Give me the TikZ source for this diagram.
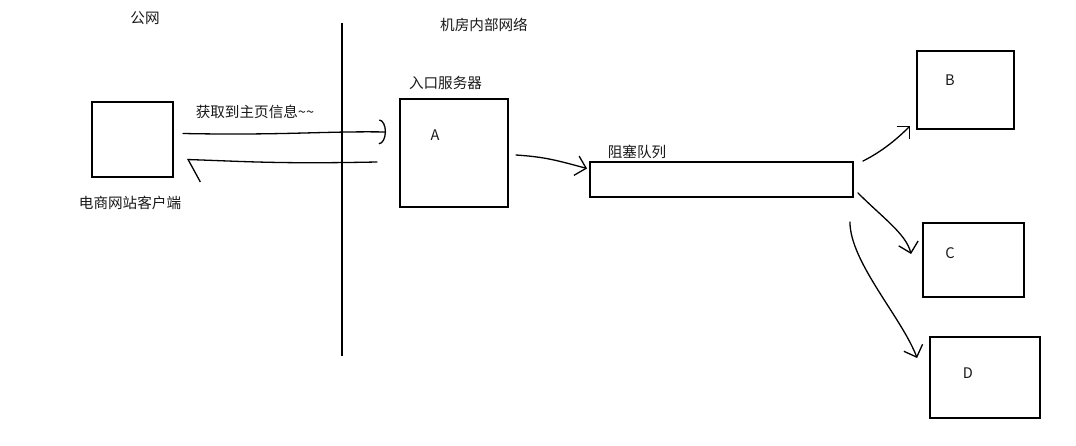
\documentclass[tikz,border=0pt]{standalone}
\usepackage{fontspec}
\setmainfont{Noto Sans CJK SC}
\usetikzlibrary{arrows.meta,calc}
\begin{document}
\begin{tikzpicture}[x=1pt,y=-1pt,
  box/.style={draw, line width=1.9pt, inner sep=0pt},
  lbl/.style={font=\fontsize{14.6}{16}\selectfont, inner sep=0pt, text=black!90},
  conn/.style={line width=1.3pt, line cap=round, line join=round},
  barb/.style={-{Straight Barb[length=#1, width=2*#1, line width=1.3pt]}},
]
\useasboundingbox[fill=white] (0,0) rectangle (1076,446);

% boxes
\node[box, minimum width=81, minimum height=75] (client) at (132.5,139.5) {};
\node[box, minimum width=108, minimum height=108] (A) at (454,153) {};
\node[box, minimum width=263, minimum height=35] (queue) at (721.5,179.5) {};
\node[box, minimum width=97, minimum height=78] (B) at (965.5,90) {};
\node[box, minimum width=101, minimum height=74] (C) at (973.5,260) {};
\node[box, minimum width=110, minimum height=81] (D) at (985,377.5) {};

% divider
\coordinate (divtop) at (342,23);
\coordinate (divbot) at (342,356);
\draw[line width=1.9pt] (divtop) -- (divbot);

% labels
\node[lbl] (pub) at (145,18) {公网};
\node[lbl] (idc) at (484,25) {机房内部网络};
\node[lbl] (entry) at (445.5,83) {入口服务器};
\node[lbl] (msg) at (255,112) {获取到主页信息\textasciitilde\textasciitilde};
\node[lbl] (clientlbl) at (130,203) {电商网站客户端};
\node[lbl] (qlbl) at (637,152) {阻塞队列};
\node[lbl] (la) at (435,135) {A};
\node[lbl] (lb) at (950,80) {B};
\node[lbl] (lc) at (950,253) {C};
\node[lbl] (ld) at (968,373) {D};

% connectors
\draw[conn, -{Arc Barb[length=7pt, width=25pt, line width=1.3pt]}]
  ($(client.east)+(9,-6)$) .. controls +(100,2) and +(-60,-1) .. ($(A.west)+(-13,-21)$);
\draw[conn, -{Straight Barb[left, length=13pt, width=44pt, line width=1.3pt]}]
  ($(A.west)+(-22,9)$) .. controls +(-100,2) and +(60,2) .. ($(client.east)+(13,20)$);
\draw[conn, barb=10pt]
  ($(A.east)+(7,2)$) .. controls +(30,2) and +(-30,-8) .. ($(queue.west)+(-2,-11)$);
\draw[conn, barb=9pt]
  ($(queue.north east)+(9,0)$) .. controls +(20,-10) and +(-12,12) .. ($(B.south west)+(-6,-4)$);
\draw[conn, barb=10pt]
  ($(queue.south east)+(4,-5)$) .. controls +(25,25) and +(-5,-20) .. ($(C.west)+(-11,-6)$);
\draw[conn, barb=10pt]
  ($(queue.south east)+(-4,24)$) .. controls +(0,40) and +(-15,-40) .. ($(D.west)+(-12,-19.5)$);
\end{tikzpicture}
\end{document}
